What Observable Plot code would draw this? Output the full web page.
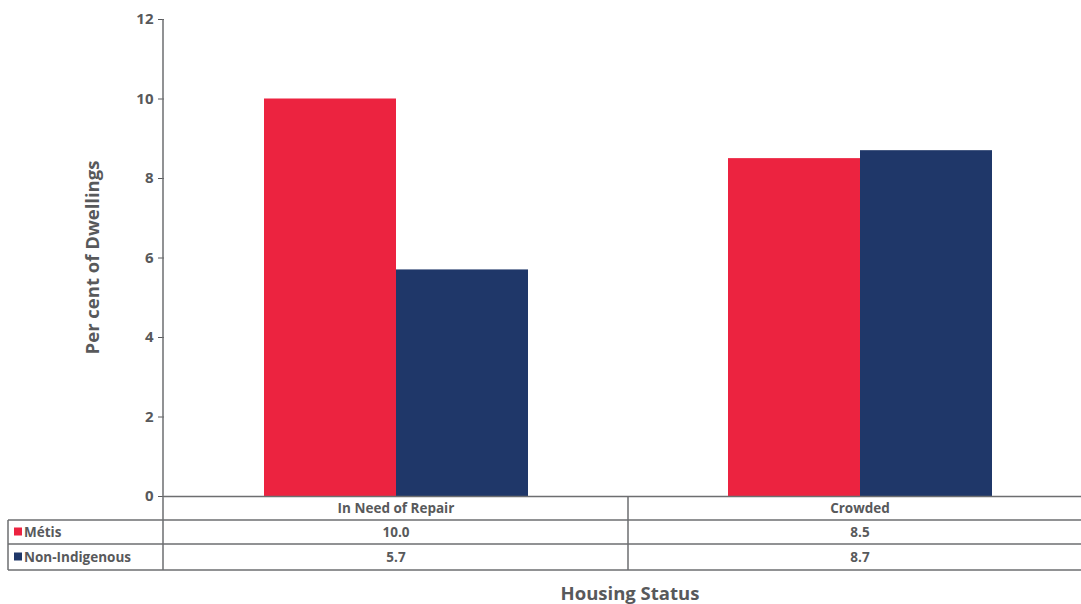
<!DOCTYPE html>
<html>
<head>
<meta charset="utf-8">
<script src="https://cdn.jsdelivr.net/npm/d3@7"></script>
<script src="https://cdn.jsdelivr.net/npm/@observablehq/plot@0.6"></script>
<style>
  html, body { margin: 0; padding: 0; overflow: hidden; background: #fff; width: 1081px; height: 604px; }
  #chart { width: 1081px; height: 604px; overflow: hidden; }
  #chart svg { display: block; max-width: none !important; height: 604px !important; width: 1092px !important; }
</style>
</head>
<body>
<div id="chart"></div>
<script>
const categories = ["In Need of Repair", "Crowded"];
const seriesNames = ["Métis", "Non-Indigenous"];
const metisValues = [10.0, 8.5];
const nonIndigenousValues = [5.7, 8.7];
const metisLabels = ["10.0", "8.5"];
const nonIndigenousLabels = ["5.7", "8.7"];
const seriesColors = ["#ec2340", "#1f3769"];
const yTicks = [0, 2, 4, 6, 8, 10, 12];
const yTitle = "Per cent of Dwellings";
const xTitle = "Housing Status";

const data = categories.flatMap((c, i) => [
  {category: c, series: seriesNames[0], value: metisValues[i]},
  {category: c, series: seriesNames[1], value: nonIndigenousValues[i]}
]);

const textColor = "#58595b";
const lineColor = "#6d6e70";
const font = "'Open Sans', 'DejaVu Sans', sans-serif";

const W = 1092, H = 604, ML = 163, MT = 19, MB = 108;

const plot = Plot.plot({
  width: W,
  height: H,
  marginLeft: ML,
  marginRight: 0,
  marginTop: MT,
  marginBottom: MB,
  style: {fontFamily: font, fontSize: "15px", fontWeight: "bold", color: textColor, background: "#fff"},
  fx: {domain: categories, padding: 0, axis: null, label: null},
  x: {domain: seriesNames, paddingInner: 0, paddingOuter: 0.746, axis: null},
  y: {domain: [0, 12], ticks: yTicks, tickSize: 6, tickPadding: 5, label: null},
  color: {domain: seriesNames, range: seriesColors},
  marks: [
    Plot.barY(data, {fx: "category", x: "series", y: "value", fill: "series"}),
    Plot.ruleY([0], {stroke: lineColor, strokeWidth: 1.5})
  ]
});

document.getElementById("chart").appendChild(plot);

const svg = d3.select(plot);
const fx = plot.scale("fx");
const y = plot.scale("y");
const y0 = y.apply(0);
const bw = fx.bandwidth;

const rowTop = y0;
const rowH = [24, 24, 26];
const rowLines = [rowTop + rowH[0], rowTop + rowH[0] + rowH[1], rowTop + rowH[0] + rowH[1] + rowH[2]];
const tableLeft = 8;
const tableBottom = rowLines[2];

const g = svg.append("g").attr("font-family", font).attr("font-weight", "bold").attr("fill", textColor);

// y axis line
g.append("line").attr("x1", ML).attr("x2", ML).attr("y1", MT).attr("y2", tableBottom)
  .attr("stroke", lineColor).attr("stroke-width", 1.5);

// vertical column separators
categories.forEach((c, i) => {
  if (i > 0) {
    const x = fx.apply(c);
    g.append("line").attr("x1", x).attr("x2", x).attr("y1", y0).attr("y2", tableBottom)
      .attr("stroke", lineColor).attr("stroke-width", 1.5);
  }
});
g.append("line").attr("x1", tableLeft).attr("x2", tableLeft).attr("y1", rowLines[0]).attr("y2", tableBottom)
  .attr("stroke", lineColor).attr("stroke-width", 1.5);

// horizontal lines
rowLines.forEach(ly => {
  g.append("line").attr("x1", tableLeft).attr("x2", W).attr("y1", ly).attr("y2", ly)
    .attr("stroke", lineColor).attr("stroke-width", 1.5);
});

// header labels
categories.forEach(c => {
  g.append("text").attr("x", fx.apply(c) + bw / 2).attr("y", rowTop + rowH[0] / 2)
    .attr("dy", "0.35em").attr("text-anchor", "middle").attr("font-size", 13.5).text(c);
});

// rows
const rows = [
  {name: seriesNames[0], color: seriesColors[0], labels: metisLabels, cy: rowLines[0] + rowH[1] / 2},
  {name: seriesNames[1], color: seriesColors[1], labels: nonIndigenousLabels, cy: rowLines[1] + rowH[2] / 2}
];
rows.forEach(r => {
  g.append("rect").attr("x", 14).attr("y", r.cy - 4.5).attr("width", 8).attr("height", 8).attr("fill", r.color);
  g.append("text").attr("x", 24).attr("y", r.cy).attr("dy", "0.35em").attr("text-anchor", "start")
    .attr("font-size", 13.5).text(r.name);
  categories.forEach((c, i) => {
    g.append("text").attr("x", fx.apply(c) + bw / 2).attr("y", r.cy).attr("dy", "0.35em")
      .attr("text-anchor", "middle").attr("font-size", 13.5).text(r.labels[i]);
  });
});

// axis titles
g.append("text").attr("transform", `translate(93,${(MT + y0) / 2}) rotate(-90)`)
  .attr("text-anchor", "middle").attr("dy", "0.35em").attr("font-size", 18.5).text(yTitle);
g.append("text").attr("x", 630).attr("y", 594).attr("text-anchor", "middle").attr("dy", "0.35em")
  .attr("font-size", 18.5).text(xTitle);
</script>
</body>
</html>
